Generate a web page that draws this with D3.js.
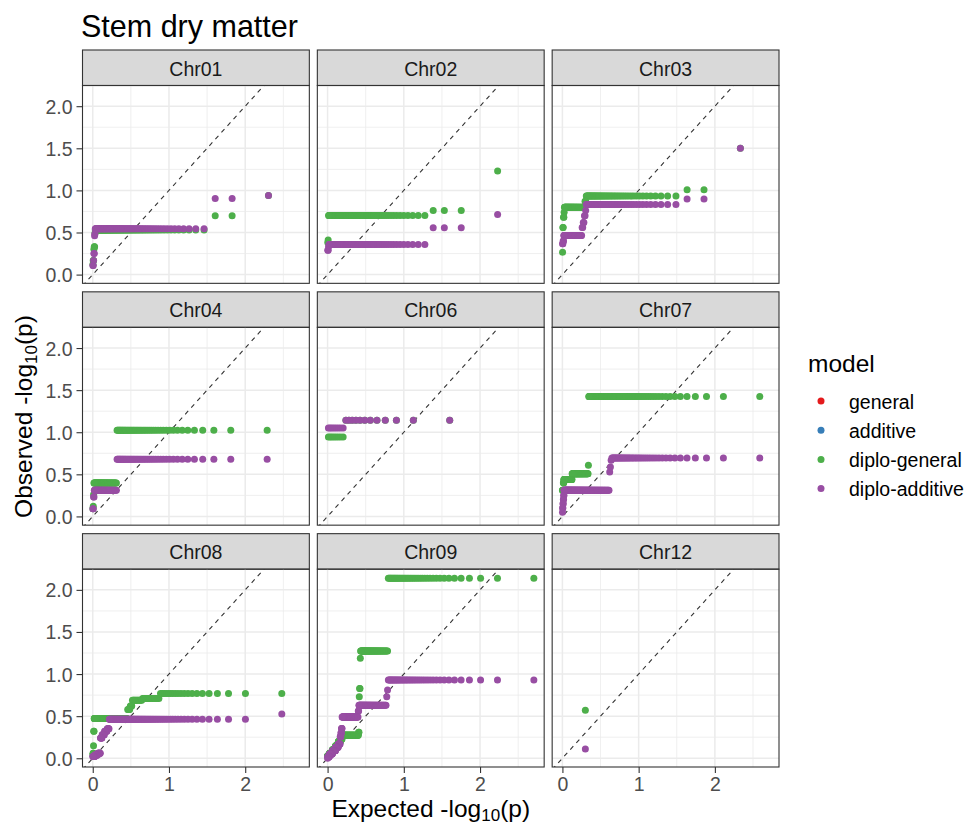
<!DOCTYPE html>
<html>
<head>
<meta charset="utf-8">
<script src="https://cdn.jsdelivr.net/npm/d3@7"></script>
<style>
  body { margin: 0; background: #ffffff; }
  svg { display: block; font-family: "Liberation Sans", Arial, Helvetica, sans-serif; }
</style>
</head>
<body>
<svg id="chart" width="966" height="825"></svg>
<script>
// ---- data -------------------------------------------------------------
const chromosomes = ["Chr01", "Chr02", "Chr03", "Chr04", "Chr06", "Chr07", "Chr08", "Chr09", "Chr12"];
const models = ["general", "additive", "diplo-general", "diplo-additive"];
const modelColors = ["#E41A1C", "#377EB8", "#4DAF4A", "#984EA3"];

// Observed -log10(p) per chromosome, sorted from largest to smallest,
// stored as [value, number of markers with that value].
const generalObs = [[], [], [], [], [], [], [], [], []];
const additiveObs = [[], [], [], [], [], [], [], [], []];
const diploGeneralObs = [
  [[0.94, 1], [0.70, 2], [0.53, 91], [0.49, 1], [0.33, 2], [0.30, 1], [0.167, 2], [0.12, 1]],
  [[1.23, 1], [0.762, 3], [0.702, 79], [0.41, 1], [0.38, 1]],
  [[1.50, 1], [1.008, 2], [0.932, 50], [0.87, 2], [0.80, 47], [0.74, 1], [0.68, 2], [0.56, 2], [0.265, 1]],
  [[1.024, 47], [0.397, 47], [0.26, 1], [0.12, 1], [0.09, 1]],
  [[1.143, 12], [0.944, 8]],
  [[1.425, 88], [0.607, 1], [0.508, 56], [0.44, 41], [0.40, 3], [0.31, 5]],
  [[0.77, 20], [0.71, 14], [0.69, 12], [0.62, 3], [0.58, 4], [0.473, 92], [0.32, 2], [0.15, 1], [0.06, 2], [0.04, 1]],
  [[2.139, 41], [1.274, 53], [1.187, 1], [0.83, 2], [0.73, 1], [0.31, 2], [0.274, 64],
   [0.23, 8], [0.20, 12], [0.15, 16], [0.10, 20], [0.06, 20], [0.03, 14]],
  [[0.57, 1]]
];
const diploAdditiveObs = [
  [[0.94, 1], [0.905, 2], [0.545, 91], [0.485, 1], [0.46, 1], [0.25, 2], [0.167, 1], [0.107, 2]],
  [[0.714, 1], [0.556, 3], [0.357, 78], [0.33, 1], [0.29, 2]],
  [[1.50, 1], [0.897, 2], [0.833, 50], [0.76, 1], [0.70, 2], [0.62, 2], [0.56, 2], [0.464, 44], [0.40, 2], [0.365, 2]],
  [[0.679, 47], [0.31, 46], [0.23, 2], [0.09, 2]],
  [[1.143, 12], [1.05, 8]],
  [[0.694, 44], [0.667, 1], [0.587, 1], [0.527, 1], [0.31, 138], [0.25, 2], [0.20, 2], [0.15, 2], [0.10, 2], [0.05, 1]],
  [[0.527, 1], [0.464, 91], [0.35, 6], [0.32, 8], [0.28, 8], [0.24, 6], [0.06, 10], [0.04, 12], [0.02, 9]],
  [[0.929, 41], [0.81, 1], [0.73, 1], [0.631, 56], [0.56, 2], [0.49, 63],
   [0.353, 3], [0.30, 3], [0.254, 4], [0.17, 10], [0.13, 16], [0.09, 20], [0.05, 20], [0.02, 12], [0.003, 2]],
  [[0.11, 1]]
];
const seriesObs = [generalObs, additiveObs, diploGeneralObs, diploAdditiveObs];

const xTicks = [0, 1, 2];
const xMinor = [0.5, 1.5, 2.5];
const yTicks = [0, 0.5, 1.0, 1.5, 2.0];
const yMinor = [0.25, 0.75, 1.25, 1.75];
const titleText = "Stem dry matter";
const legendTitle = "model";

// ---- expand run-length data into QQ points ----------------------------
// expected -log10(p) for rank i of n markers uses the (i - 0.5) / n plotting position
const points = [];
seriesObs.forEach((perChr, m) => {
  perChr.forEach((runs, c) => {
    const n = d3.sum(runs, r => r[1]);
    let rank = 0;
    runs.forEach(([value, count]) => {
      for (let k = 0; k < count; k++) {
        rank += 1;
        points.push({ chr: c, model: m, observed: value, expected: -Math.log10((rank - 0.5) / n) });
      }
    });
  });
});

// ---- layout -----------------------------------------------------------
const svg = d3.select("#chart");
const W = 966, H = 825;
const areaLeft = 82.5, areaRight = 779, areaTop = 50, areaBottom = 767;
const hGap = 8, vGap = 8.5, stripH = 35.5;
const nCol = 3, nRow = 3;
const panelW = (areaRight - areaLeft - hGap * (nCol - 1)) / nCol;
const panelH = (areaBottom - areaTop - vGap * (nRow - 1)) / nRow;
const plotH = panelH - stripH;
const pointR = 3.5;

svg.append("rect").attr("width", W).attr("height", H).attr("fill", "#ffffff");

// shared scales with 5% padding on each side
function padded(ext) {
  const d = (ext[1] - ext[0]) * 0.05;
  return [ext[0] - d, ext[1] + d];
}
const x = d3.scaleLinear().domain(padded(d3.extent(points, d => d.expected))).range([0, panelW]);
const y = d3.scaleLinear().domain(padded(d3.extent(points, d => d.observed))).range([plotH, 0]);

const defs = svg.append("defs");
defs.append("clipPath").attr("id", "panel-clip")
  .append("rect").attr("width", panelW).attr("height", plotH);

const tickColor = "#333333";
const labelColor = "#4D4D4D";
const gridColor = "#EBEBEB";

chromosomes.forEach((chr, c) => {
  const col = c % nCol, row = Math.floor(c / nCol);
  const px = areaLeft + col * (panelW + hGap);
  const py = areaTop + row * (panelH + vGap);
  const g = svg.append("g").attr("transform", `translate(${px},${py})`);

  // strip
  g.append("rect").attr("width", panelW).attr("height", stripH)
    .attr("fill", "#D9D9D9").attr("stroke", "#333333").attr("stroke-width", 1.1);
  g.append("text").attr("x", panelW / 2).attr("y", stripH / 2 + 7.8)
    .attr("text-anchor", "middle").attr("font-size", 19.5).attr("fill", "#1A1A1A").text(chr);

  const p = g.append("g").attr("transform", `translate(0,${stripH})`);

  // grid
  const grid = p.append("g");
  grid.selectAll(".xm").data(xMinor).join("line")
    .attr("x1", d => x(d)).attr("x2", d => x(d)).attr("y1", 0).attr("y2", plotH)
    .attr("stroke", gridColor).attr("stroke-width", 0.8);
  grid.selectAll(".ym").data(yMinor).join("line")
    .attr("x1", 0).attr("x2", panelW).attr("y1", d => y(d)).attr("y2", d => y(d))
    .attr("stroke", gridColor).attr("stroke-width", 0.8);
  grid.selectAll(".xM").data(xTicks).join("line")
    .attr("x1", d => x(d)).attr("x2", d => x(d)).attr("y1", 0).attr("y2", plotH)
    .attr("stroke", gridColor).attr("stroke-width", 1.5);
  grid.selectAll(".yM").data(yTicks).join("line")
    .attr("x1", 0).attr("x2", panelW).attr("y1", d => y(d)).attr("y2", d => y(d))
    .attr("stroke", gridColor).attr("stroke-width", 1.5);

  const inner = p.append("g").attr("clip-path", "url(#panel-clip)");

  // y = x reference line
  const dLo = Math.min(x.domain()[0], y.domain()[0]);
  const dHi = Math.max(x.domain()[1], y.domain()[1]);
  inner.append("line")
    .attr("x1", x(dLo)).attr("y1", y(dLo)).attr("x2", x(dHi)).attr("y2", y(dHi))
    .attr("stroke", "#333333").attr("stroke-width", 1.1).attr("stroke-dasharray", "4.5,4.5");

  // points, drawn model by model so later models sit on top
  models.forEach((mName, m) => {
    inner.append("g").selectAll("circle")
      .data(points.filter(d => d.chr === c && d.model === m))
      .join("circle")
      .attr("cx", d => x(d.expected)).attr("cy", d => y(d.observed))
      .attr("r", pointR).attr("fill", modelColors[m]);
  });

  // border
  p.append("rect").attr("width", panelW).attr("height", plotH)
    .attr("fill", "none").attr("stroke", "#333333").attr("stroke-width", 1.1);

  // y axis on the first column
  if (col === 0) {
    const ya = p.append("g").attr("class", "y-axis")
      .call(d3.axisLeft(y).tickValues(yTicks).tickFormat(d3.format(".1f")).tickSize(6).tickPadding(4));
    ya.select(".domain").remove();
    ya.selectAll(".tick line").attr("stroke", tickColor).attr("stroke-width", 1.1);
    ya.selectAll(".tick text").attr("fill", labelColor).attr("font-size", 19.5)
      .attr("font-family", "Liberation Sans, Arial, sans-serif").attr("dy", "0.36em");
  }
  // x axis on the bottom row
  if (row === nRow - 1) {
    const xa = p.append("g").attr("transform", `translate(0,${plotH})`)
      .call(d3.axisBottom(x).tickValues(xTicks).tickFormat(d3.format("d")).tickSize(6).tickPadding(4));
    xa.select(".domain").remove();
    xa.selectAll(".tick line").attr("stroke", tickColor).attr("stroke-width", 1.1);
    xa.selectAll(".tick text").attr("fill", labelColor).attr("font-size", 19.5)
      .attr("font-family", "Liberation Sans, Arial, sans-serif");
  }
});

// ---- titles -----------------------------------------------------------
svg.append("text").attr("x", 81).attr("y", 37).attr("font-size", 30.5).attr("fill", "#000").text(titleText);

const xTitle = svg.append("text").attr("x", (areaLeft + areaRight) / 2).attr("y", 817)
  .attr("text-anchor", "middle").attr("font-size", 24.5).attr("fill", "#000");
xTitle.append("tspan").text("Expected -log");
xTitle.append("tspan").attr("font-size", 17).attr("dy", 4).text("10");
xTitle.append("tspan").attr("dy", -4).text("(p)");

const yTitle = svg.append("text")
  .attr("transform", `translate(32,${(areaTop + areaBottom) / 2 + 8}) rotate(-90)`)
  .attr("text-anchor", "middle").attr("font-size", 24.5).attr("fill", "#000");
yTitle.append("tspan").text("Observed -log");
yTitle.append("tspan").attr("font-size", 17).attr("dy", 5).text("10");
yTitle.append("tspan").attr("dy", -5).text("(p)");

// ---- legend -----------------------------------------------------------
const legend = svg.append("g").attr("transform", "translate(808,0)");
legend.append("text").attr("x", 0).attr("y", 372).attr("font-size", 24.5).attr("fill", "#000").text(legendTitle);
const legendStep = 29.2;
models.forEach((mName, m) => {
  const ly = 401 + m * legendStep;
  legend.append("circle").attr("cx", 13).attr("cy", ly).attr("r", pointR).attr("fill", modelColors[m]);
  legend.append("text").attr("x", 41).attr("y", ly + 7.5).attr("font-size", 19.5).attr("fill", "#000").text(mName);
});
</script>
</body>
</html>
